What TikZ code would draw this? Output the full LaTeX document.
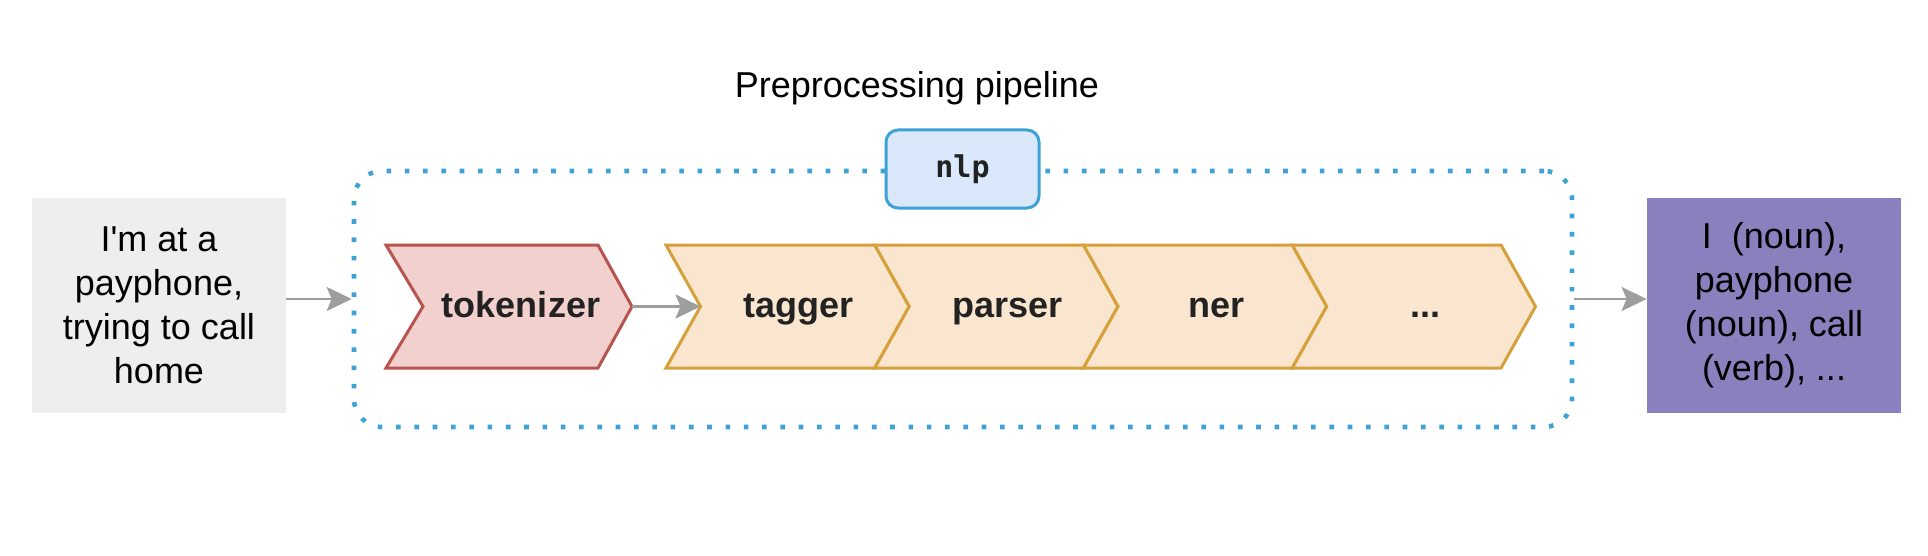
\documentclass[tikz,border=0pt]{standalone}
\usepackage{fontspec}
\setmainfont{Liberation Sans}
\newfontfamily\codefont{DejaVu Sans Mono}
\usetikzlibrary{arrows.meta,positioning}

\definecolor{boxgray}{HTML}{EEEEEE}
\definecolor{outpurple}{HTML}{8B80BE}
\definecolor{dotblue}{HTML}{3FA2D6}
\definecolor{nlpfill}{HTML}{DAE8FC}
\definecolor{tokfill}{HTML}{F2D0CE}
\definecolor{tokline}{HTML}{B85450}
\definecolor{stepfill}{HTML}{FAE6CF}
\definecolor{stepline}{HTML}{D6A03A}
\definecolor{arrowgray}{HTML}{9E9E9E}
\definecolor{labelink}{HTML}{222222}

\tikzset{
  textbox/.style={minimum width=127pt, minimum height=107.5pt, inner sep=0pt, align=center, font=\fontsize{18pt}{22pt}\selectfont},
  flow/.style={draw=arrowgray, line width=1.4pt, -{Stealth[length=12.5pt,width=12pt,inset=2.5pt]}},
  stagelabel/.style={anchor=base, font=\fontsize{18pt}{22pt}\selectfont\bfseries, text=labelink},
}
\newcommand{\etcdots}{...}

\begin{document}
\begin{tikzpicture}[x=0.5pt,y=-0.5pt]
\useasboundingbox (0,0) rectangle (1928,556);

% Title
\node[anchor=base, font=\fontsize{18pt}{22pt}\selectfont] (title) at (917,98) {Preprocessing pipeline};

% Pipeline frame
\node[draw=dotblue, line width=2.3pt, dash pattern=on 2.3pt off 6.85pt, rounded corners=14pt,
      minimum width=609pt, minimum height=128pt] (pipe) at (963,299) {};

% nlp tag
\node[draw=dotblue, fill=nlpfill, line width=1.5pt, rounded corners=6pt, minimum width=76.5pt,
      minimum height=39pt, text=labelink, font=\codefont\fontsize{15pt}{18pt}\selectfont\bfseries] (nlp) at (962.5,169) {nlp};

% Input and output
\node[textbox, fill=boxgray] (input) at (159,305) {I\textquotesingle m at a\\payphone,\\trying to call\\home};
\node[textbox, fill=outpurple] (output) at (1774,305) {I\ \ (noun),\\payphone\\(noun), call\\(verb), ...};

% Tokenizer
\draw[draw=tokline, fill=tokfill, line width=1.5pt] (386,245) -- (598,245) -- (632,306.5) -- (598,368) -- (386,368) -- (423,306.5) -- cycle;
\coordinate (tok-out) at (632,306.5);
\node[stagelabel] (tok) at (521,317) {tokenizer};

% Stages
\foreach \lab/\nm [count=\i from 0] in {tagger/tag, parser/par, ner/ner, \etcdots/etc} {
  \pgfmathsetmacro{\xs}{666+208.75*\i}
  \draw[draw=stepline, fill=stepfill, line width=1.5pt] (\xs,245) -- ++(208.75,0) -- ++(34.5,61.5) -- ++(-34.5,61.5) -- ++(-208.75,0) -- ++(34.5,-61.5) -- cycle;
  \coordinate (\nm-in) at (\xs+34.5,306.5);
  \node[stagelabel] (\nm) at (\xs+132.9,317) {\lab};
}

% Connectors
\draw[flow] (input.east |- pipe.west) -- (pipe.west);
\draw[flow] (tok-out) -- (tag-in);
\draw[flow] (pipe.east) -- (output.west |- pipe.east);
\end{tikzpicture}
\end{document}
